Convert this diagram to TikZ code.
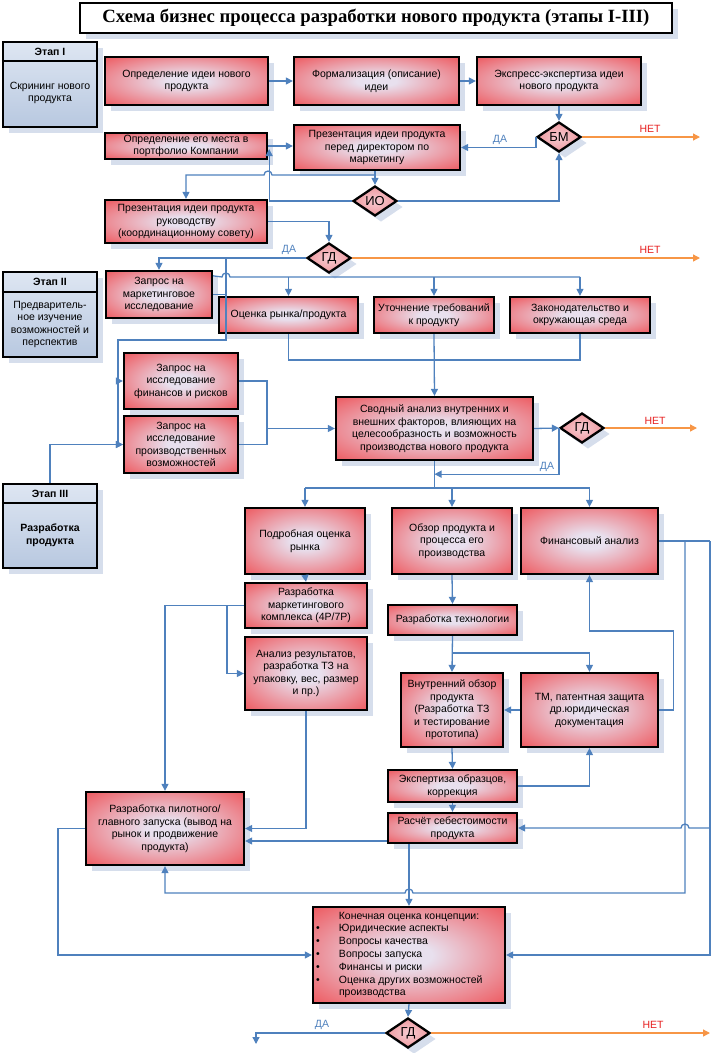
\documentclass[tikz,border=0pt]{standalone}
\usepackage{fontspec}
\setmainfont{Liberation Sans}
\newfontfamily\titlefont{Liberation Serif}
\usetikzlibrary{arrows.meta,shapes.geometric,shadows}

\definecolor{kRed}{RGB}{238,88,94}
\definecolor{kGlow}{RGB}{232,224,238}
\definecolor{kPink}{RGB}{236,128,134}
\definecolor{kPinkGlow}{RGB}{246,204,210}
\pgfdeclareradialshading{kglow}{\pgfpoint{0bp}{0bp}}{color(0bp)=(kGlow); color(6bp)=(kGlow); color(36bp)=(kRed); color(50bp)=(kRed)}
\pgfdeclareradialshading{kdiam}{\pgfpoint{0bp}{0bp}}{color(0bp)=(kPinkGlow); color(38bp)=(kPink); color(50bp)=(kPink)}

\begin{document}
\begin{tikzpicture}[x=1pt,y=-1pt,
  every node/.style={font=\fontsize{10.5}{12.5}\selectfont},
  shade/.style={drop shadow={shadow xshift=6pt,shadow yshift=-6pt,fill=kShadow,opacity=1}},
  box/.style={draw,line width=2.3pt,shading=kglow,align=center,inner sep=1pt,shade},
  decision/.style={diamond,draw,line width=2.3pt,shading=kdiam,inner sep=0pt,
    minimum width=44pt,minimum height=30pt,font=\fontsize{13}{13}\selectfont,shade},
  stage/.style={draw,line width=2.3pt,top color=kStageTop,bottom color=kStageBot,
    minimum width=94pt,shade},
  conn/.style={draw=kBlue,line width=1.3pt,-{Triangle[length=7pt,width=7pt]}},
  wire/.style={draw=kBlue,line width=1.3pt},
  nope/.style={draw=kOrange,line width=1.3pt,-{Triangle[length=7pt,width=7pt]}},
  yeslabel/.style={text=kBlue},
  nolabel/.style={text=kNo}]
  \definecolor{kBlue}{RGB}{79,129,189}
  \definecolor{kOrange}{RGB}{247,150,70}
  \definecolor{kNo}{RGB}{230,30,30}
  \definecolor{kShadow}{RGB}{214,222,236}
  \definecolor{kStageTop}{RGB}{222,230,242}
  \definecolor{kStageBot}{RGB}{184,200,224}

  \useasboundingbox (0,0) rectangle (711,1053);

  % title
  \node[draw,line width=2.3pt,fill=white,minimum width=592pt,minimum height=30pt,shade,
    font=\titlefont\bfseries\fontsize{18.7}{20}\selectfont] (title) at (376,18)
    {Схема бизнес процесса разработки нового продукта (этапы I-III)};

  % stages
  \node[stage,minimum height=85pt] (S1) at (50,84.5) {};
  \draw[line width=2.3pt] (S1.west |- 0,61) -- (S1.east |- 0,61);
  \node (S1h) at (50,51.5) {\bfseries Этап I};
  \node[align=center] (S1t) at (50,93) {Скрининг нового\\продукта};

  \node[stage,minimum height=85pt] (S2) at (50,314.5) {};
  \draw[line width=2.3pt] (S2.west |- 0,292) -- (S2.east |- 0,292);
  \node (S2h) at (50,282) {\bfseries Этап II};
  \node[align=center] (S2t) at (50,324.5) {Предваритель-\\ное изучение\\возможностей и\\перспектив};

  \node[stage,minimum height=84pt] (S3) at (50,526) {};
  \draw[line width=2.3pt] (S3.west |- 0,503) -- (S3.east |- 0,503);
  \node (S3h) at (50,493.5) {\bfseries Этап III};
  \node[align=center,font=\fontsize{10.5}{13}\selectfont\bfseries] (S3t) at (50,535.5) {Разработка\\продукта};

  % stage I
  \node[box,minimum width=163pt,minimum height=48pt] (A1) at (186.5,81) {Определение идеи нового\\продукта};
  \node[box,minimum width=165pt,minimum height=48pt] (A2) at (376.5,81) {Формализация (описание)\\идеи};
  \node[box,minimum width=164pt,minimum height=48pt] (A3) at (559,81) {Экспресс-экспертиза идеи\\нового продукта};
  \node[decision] (BM) at (559,137) {БМ};
  \node[box,minimum width=162pt,minimum height=26pt] (B1) at (186,146) {Определение его места в\\портфолио Компании};
  \node[box,minimum width=166pt,minimum height=45pt] (B2) at (377,147.5) {Презентация идеи продукта\\перед директором по\\маркетингу};
  \node[decision] (IO) at (375,201) {ИО};
  \node[box,minimum width=162pt,minimum height=43pt] (C1) at (186,221.5) {Презентация идеи продукта\\руководству\\(координационному совету)};
  \node[decision] (GD1) at (329,258) {ГД};

  % stage II
  \node[box,minimum width=106pt,minimum height=47pt] (D1) at (159,294.5) {Запрос на\\маркетинговое\\исследование};
  \node[box,minimum width=139pt,minimum height=36pt] (D2) at (288.5,315) {Оценка рынка/продукта};
  \node[box,minimum width=120pt,minimum height=36pt] (D3) at (434,315) {Уточнение требований\\к продукту};
  \node[box,minimum width=140pt,minimum height=36pt] (D4) at (580,315) {Законодательство и\\окружающая среда};
  \node[box,minimum width=114pt,minimum height=56pt] (D5) at (181,381) {Запрос на\\исследование\\финансов и рисков};
  \node[box,minimum width=114pt,minimum height=57pt] (D6) at (181,444.5) {Запрос на\\исследование\\производственных\\возможностей};
  \node[box,minimum width=197pt,minimum height=63pt] (E) at (434.5,428.5) {Сводный анализ внутренних и\\внешних факторов, влияющих на\\целесообразность и возможность\\производства нового продукта};
  \node[decision] (GD2) at (582,428) {ГД};

  % stage III
  \node[box,minimum width=120pt,minimum height=66pt] (F1) at (305,541) {Подробная оценка\\рынка};
  \node[box,minimum width=120pt,minimum height=66pt] (F2) at (452,541) {Обзор продукта и\\процесса его\\производства};
  \node[box,minimum width=137pt,minimum height=66pt] (F3) at (589.5,541) {Финансовый анализ};
  \node[box,minimum width=122pt,minimum height=45pt] (G1) at (306,605.5) {Разработка\\маркетингового\\комплекса (4P/7P)};
  \node[box,minimum width=122pt,minimum height=73pt] (G2) at (306,673.5) {Анализ результатов,\\разработка ТЗ на\\упаковку, вес, размер\\и пр.)};
  \node[box,minimum width=129pt,minimum height=30pt] (G3) at (452.5,620) {Разработка технологии};
  \node[box,minimum width=102pt,minimum height=74pt] (I1) at (452,710) {Внутренний обзор\\продукта\\(Разработка ТЗ\\и тестирование\\прототипа)};
  \node[box,minimum width=137pt,minimum height=74pt] (I2) at (589.5,710) {ТМ, патентная защита\\др.юридическая\\документация};
  \node[box,minimum width=129pt,minimum height=32pt] (J1) at (452.5,786) {Экспертиза образцов,\\коррекция};
  \node[box,minimum width=129pt,minimum height=30pt] (K1) at (452.5,828) {Расчёт себестоимости\\продукта};
  \node[box,minimum width=158pt,minimum height=73pt] (H1) at (165,828.5) {Разработка пилотного/\\главного запуска (вывод на\\рынок и продвижение\\продукта)};
  \node[box,minimum width=192pt,minimum height=96pt,inner sep=0pt,font=\fontsize{10.5}{12.8}\selectfont] (L1) at (409,955)
    {\begin{tabular}{@{}p{23pt}@{}p{163pt}@{}}
      \multicolumn{2}{@{}c@{}}{Конечная оценка концепции:}\\
      \textbullet & Юридические аспекты\\
      \textbullet & Вопросы качества\\
      \textbullet & Вопросы запуска\\
      \textbullet & Финансы и риски\\
      \textbullet & Оценка других возможностей\\
                  & производства
    \end{tabular}};
  \node[decision] (GD3) at (408,1033) {ГД};

  % yes / no labels
  \node[nolabel] (no1) at (650,129) {НЕТ};
  \node[yeslabel] (yes1) at (500,140) {ДА};
  \node[nolabel] (no2) at (650,250) {НЕТ};
  \node[yeslabel] (yes2) at (289,250) {ДА};
  \node[nolabel] (no3) at (655,421) {НЕТ};
  \node[yeslabel] (yes3) at (547,467) {ДА};
  \node[yeslabel] (yes4) at (322,1025) {ДА};
  \node[nolabel] (no4) at (653,1025) {НЕТ};
  \coordinate (out1) at (700,137);
  \coordinate (out2) at (700,258);
  \coordinate (out3) at (697,428);
  \coordinate (out4) at (710,1033);
  \coordinate (back) at (256,1044);

  % stage I connectors
  \draw[conn] (A1) -- (A2);
  \draw[conn] (A2) -- (A3);
  \draw[conn] (A3) -- (BM);
  \draw[nope] (BM.east) -- (out1);
  \draw[conn] (BM.west) |- (B2.east);
  \draw[conn] (B1.east) -- (B1.east -| B2.west);
  \draw[conn] (IO.west) -| ([xshift=1pt,yshift=-3pt]B1.east);
  \draw[conn] (IO.north |- B2.south) -- (IO.north);
  \draw[conn] (IO.north |- B2.south) -- (375,175) -- (272,175)
    arc[start angle=0,end angle=-180,radius=4] -- (C1.north |- 0,175) -- (C1.north);
  \draw[conn] (IO.east) -| (BM.south);
  \draw[conn] (C1.east) -| (GD1.north);
  \draw[nope] (GD1.east) -- (out2);
  \draw[conn] (GD1.west) -| (D1.north);

  % stage II connectors
  \draw[wire] (226,258) -- (226,340) -- (118,340) -- (118,444.5);
  \draw[wire] (D1.east) -- (226,294.5);
  \draw[conn] (118,381) -- (D5.west);
  \draw[conn] (118,444.5) -- (D6.west);
  \draw[conn] (S3.north) |- (D6.west);
  \draw[wire] ([yshift=-6pt]D1.north east) -- (222,277)
    arc[start angle=180,end angle=360,radius=4] -- (D4.north |- 0,277);
  \foreach \n in {D2,D3,D4}
    \draw[conn] (\n.north |- 0,277) -- (\n.north);
  \draw[wire] (D2.south) |- (D4.south |- 0,360) -- (D4.south);
  \draw[conn] (D3.south) -- (E.north);
  \draw[wire] (D5.east) -- (267,381) -- (267,444.5) -- (D6.east);
  \draw[conn] (267,428.5) -- (E.west);
  \draw[conn] (E.east) -- (GD2.west);
  \draw[nope] (GD2.east) -- (out3);
  \draw[conn] (GD2.west) |- ([yshift=-13pt]E.south);

  % stage III connectors
  \draw[wire] (E.south) -- (E.south |- 0,488);
  \draw[wire] (F1.north |- 0,488) -- (F3.north |- 0,488);
  \foreach \n in {F1,F2,F3}
    \draw[conn] (\n.north |- 0,488) -- (\n.north);
  \draw[conn] (F1.south) -- (G1.north);
  \draw[conn] (G1.west) -| (H1.north);
  \draw[conn] (227,605.5) |- (G2.west);
  \draw[conn] (G2.south) |- (H1.east);
  \draw[conn] (F2.south) -- (G3.north);
  \draw[conn] (G3.south) -- (I1.north);
  \draw[conn] (G3.south |- 0,653) -| (I2.north);
  \draw[conn] (I2.west) -- (I1.east);
  \draw[conn] (I2.east) -- ++(14,0) |- (F3.south |- 0,631) -- (F3.south);
  \draw[conn] (I1.south) -- (J1.north);
  \draw[conn] (J1.east) -| (I2.south);
  \draw[conn] (J1.south) -- (K1.north);
  \draw[conn] ([yshift=-13pt]K1.west) coordinate (k) -- (k -| H1.east);
  \draw[conn] (L1.north |- K1.south) -- (L1.north);
  \draw[wire] (F3.east) -- (710,541);
  \draw[conn] (685,541) -- (685,893) -- (413,893)
    arc[start angle=0,end angle=-180,radius=4] -- (H1.south |- 0,893) -- (H1.south);
  \draw[conn] (710,541) |- (L1.east);
  \draw[conn] (710,828) -- (689,828)
    arc[start angle=0,end angle=-180,radius=4] -- (K1.east);
  \draw[conn] (H1.west) -- (58,828.5) |- (L1.west);
  \draw[conn] (L1.south) -- (GD3.north);
  \draw[nope] (GD3.east) -- (out4);
  \draw[conn] (GD3.west) -| (back);
\end{tikzpicture}
\end{document}
